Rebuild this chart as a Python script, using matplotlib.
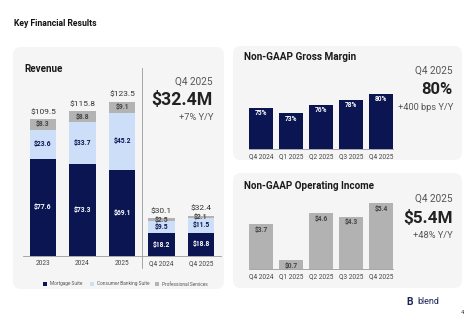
import matplotlib
matplotlib.use("Agg")
import matplotlib.pyplot as plt
from matplotlib.patches import FancyBboxPatch, Rectangle

plt.rcParams['font.family'] = ['Roboto', 'DejaVu Sans']

# ---------------- data ----------------
rev_cats = ['2023', '2024', '2025', 'Q4 2024', 'Q4 2025']
mortgage = [77.6, 73.3, 69.1, 18.2, 18.8]
consumer = [23.6, 33.7, 45.2, 9.5, 11.5]
professional = [8.3, 8.8, 9.1, 2.5, 2.1]
rev_totals = [109.5, 115.8, 123.5, 30.1, 32.4]

q_cats = ['Q4 2024', 'Q1 2025', 'Q2 2025', 'Q3 2025', 'Q4 2025']
gross_margin = [75, 73, 76, 78, 80]
op_income = [3.7, 0.7, 4.6, 4.3, 5.4]

NAVY = '#0b1552'
LBLUE = '#cddff8'
GRAY = '#b3b3b3'
OPGRAY = '#b2b2b2'
PANEL = '#f5f5f5'

W, H = 474, 324
fig = plt.figure(figsize=(W / 100, H / 100), dpi=100)
fig.patch.set_facecolor('white')

# background axes in pixel coordinates
bg = fig.add_axes([0, 0, 1, 1], zorder=-1)
bg.set_xlim(0, W)
bg.set_ylim(H, 0)
bg.axis('off')


def panel(x0, y0, x1, y1):
    bg.add_patch(FancyBboxPatch((x0, y0), x1 - x0, y1 - y0,
                                boxstyle="round,pad=0,rounding_size=8",
                                fc=PANEL, ec='none'))


panel(13, 47, 224, 289)
panel(233, 46, 462, 160)
panel(233, 173, 462, 288)


def rect(x0, y_top, x1, y_bot):
    return [x0 / W, 1 - y_bot / H, (x1 - x0) / W, (y_bot - y_top) / H]


def style_ax(ax, labels, pad):
    ax.set_facecolor('none')
    for s in ['top', 'right', 'left']:
        ax.spines[s].set_visible(False)
    ax.spines['bottom'].set_color('#9a9a9a')
    ax.spines['bottom'].set_linewidth(0.6)
    ax.set_yticks([])
    ax.set_xticks(range(len(labels)))
    ax.set_xticklabels(labels)
    ax.tick_params(axis='x', length=0, labelsize=4.7, labelcolor='#444444', pad=pad)


# ---------------- titles ----------------
bg.text(14, 23, 'Key Financial Results', fontsize=6.2, fontweight='bold', color='#111111', va='center')
bg.text(24, 69, 'Revenue', fontsize=7.1, fontweight='bold', color='#1a1a1a', va='center')
bg.text(244, 57, 'Non-GAAP Gross Margin', fontsize=7.2, fontweight='bold', color='#1a1a1a', va='center')
bg.text(244, 186, 'Non-GAAP Operating Income', fontsize=7.1, fontweight='bold', color='#1a1a1a', va='center')

# ---------------- revenue ----------------
ax1 = fig.add_axes(rect(23.25, 68.5, 220.75, 256))
x = list(range(len(rev_cats)))
bw = 0.68
ax1.bar(x, mortgage, width=bw, color=NAVY)
ax1.bar(x, consumer, width=bw, bottom=mortgage, color=LBLUE)
bottom2 = [m + c for m, c in zip(mortgage, consumer)]
ax1.bar(x, professional, width=bw, bottom=bottom2, color=GRAY)
ax1.set_xlim(-0.5, 4.5)
ax1.set_ylim(0, 150)
style_ax(ax1, rev_cats, 3)
for i in x:
    ax1.text(i, mortgage[i] / 2, f'${mortgage[i]:.1f}', ha='center', va='center',
             fontsize=4.9, fontweight='bold', color='white')
    ax1.text(i, mortgage[i] + consumer[i] / 2, f'${consumer[i]:.1f}', ha='center', va='center',
             fontsize=4.9, fontweight='bold', color=NAVY)
    ax1.text(i, bottom2[i] + professional[i] / 2, f'${professional[i]:.1f}', ha='center', va='center',
             fontsize=4.9, fontweight='bold', color='#444444')
    ax1.annotate(f'${rev_totals[i]:.1f}', (i, rev_totals[i]), xytext=(0, 5.2),
                 textcoords='offset points', ha='center', va='center',
                 fontsize=6.0, color='#333333')

# divider
bg.plot([142.5, 142.5], [68, 268], color='#9a9a9a', lw=0.6)

bg.text(213, 82, 'Q4 2025', fontsize=7.2, color='#555555', ha='right', va='center')
bg.text(213, 100, '$32.4M', fontsize=12.7, fontweight='bold', color='#222222', ha='right', va='center')
bg.text(213, 118, '+7% Y/Y', fontsize=6.7, color='#555555', ha='right', va='center')

# legend
leg = [('Mortgage Suite', NAVY, 43), ('Consumer Banking Suite', LBLUE, 90), ('Professional Services', GRAY, 155)]
for name, col, lx in leg:
    bg.add_patch(Rectangle((lx, 282), 4, 4, fc=col, ec='none'))
    bg.text(lx + 7, 284, name, fontsize=3.4, color='#555555', va='center')

# ---------------- gross margin ----------------
ax2 = fig.add_axes(rect(249, 68, 393, 149))
xq = list(range(len(q_cats)))
ax2.bar(xq, gross_margin, width=0.77, color=NAVY)
ax2.set_xlim(-0.4, 4.4)
ax2.set_ylim(60, 60 + 81 / 2.75)
style_ax(ax2, q_cats, 3)
for i in xq:
    ax2.annotate(f'{gross_margin[i]}%', (i, gross_margin[i]), xytext=(0, -3.8),
                 textcoords='offset points', ha='center', va='center',
                 fontsize=4.8, fontweight='bold', color='white')

bg.text(453, 71, 'Q4 2025', fontsize=7.2, color='#555555', ha='right', va='center')
bg.text(453, 89, '80%', fontsize=12, fontweight='bold', color='#222222', ha='right', va='center')
bg.text(453, 107, '+400 bps Y/Y', fontsize=6.7, color='#555555', ha='right', va='center')

# ---------------- operating income ----------------
ax3 = fig.add_axes(rect(249, 190, 393, 269))
ax3.bar(xq, op_income, width=0.77, color=OPGRAY)
ax3.set_xlim(-0.4, 4.4)
ax3.set_ylim(0, 79 / 12.2)
style_ax(ax3, q_cats, 3)
for i in xq:
    ax3.annotate(f'${op_income[i]:.1f}', (i, op_income[i]), xytext=(0, -4.2),
                 textcoords='offset points', ha='center', va='center',
                 fontsize=4.8, fontweight='bold', color='#444444')

bg.text(453, 199, 'Q4 2025', fontsize=7.2, color='#555555', ha='right', va='center')
bg.text(453, 218, '$5.4M', fontsize=12.3, fontweight='bold', color='#222222', ha='right', va='center')
bg.text(453, 236, '+48% Y/Y', fontsize=6.7, color='#555555', ha='right', va='center')

# ---------------- footer ----------------
bg.text(410, 302, 'B', fontsize=7.5, fontweight='bold', color='#1c2456', ha='center', va='center')
bg.text(417, 302, 'blend', fontsize=6.5, color='#1c2456', va='center')
bg.text(462, 313, '4', fontsize=4, color='#333333', ha='center', va='center')

fig.savefig('out.png', dpi=100, facecolor='white')
